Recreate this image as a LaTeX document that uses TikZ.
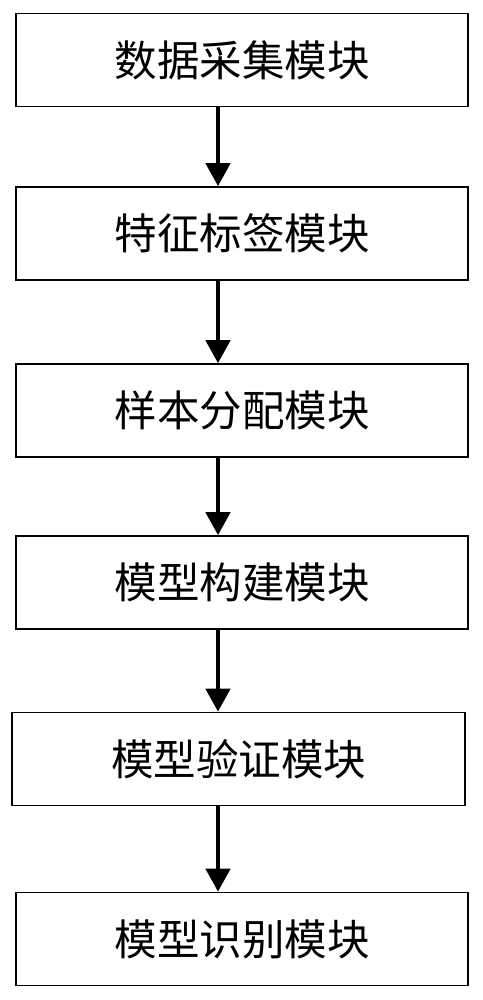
\documentclass[tikz,border=0pt]{standalone}
\usepackage{fontspec}
\newfontfamily\cjk{Noto Sans CJK SC}
\usetikzlibrary{arrows.meta}
\begin{document}
\begin{tikzpicture}[x=1pt,y=1pt,
  modbox/.style={draw=black,line width=1.6pt,minimum height=93pt,inner sep=0pt,font=\cjk\fontsize{42.5}{50}\selectfont},
  flow/.style={line width=4.5pt,-{Triangle[width=24pt,length=23pt]},shorten >=0pt}]
\useasboundingbox (0,0) rectangle (482,1000);
\node[modbox,minimum width=452pt] (m1) at (242,940) {数据采集模块};
\node[modbox,minimum width=452pt] (m2) at (242,766.5) {特征标签模块};
\node[modbox,minimum width=452pt] (m3) at (242,589.5) {样本分配模块};
\node[modbox,minimum width=452pt] (m4) at (242,417.5) {模型构建模块};
\node[modbox,minimum width=453pt] (m5) at (238.5,241) {模型验证模块};
\node[modbox,minimum width=452pt] (m6) at (242,61) {模型识别模块};
\foreach \a/\b in {m1/m2,m2/m3,m3/m4,m4/m5,m5/m6}
  \draw[flow] (\a.south -| 218,0) -- (\b.north -| 218,0);
\end{tikzpicture}
\end{document}
